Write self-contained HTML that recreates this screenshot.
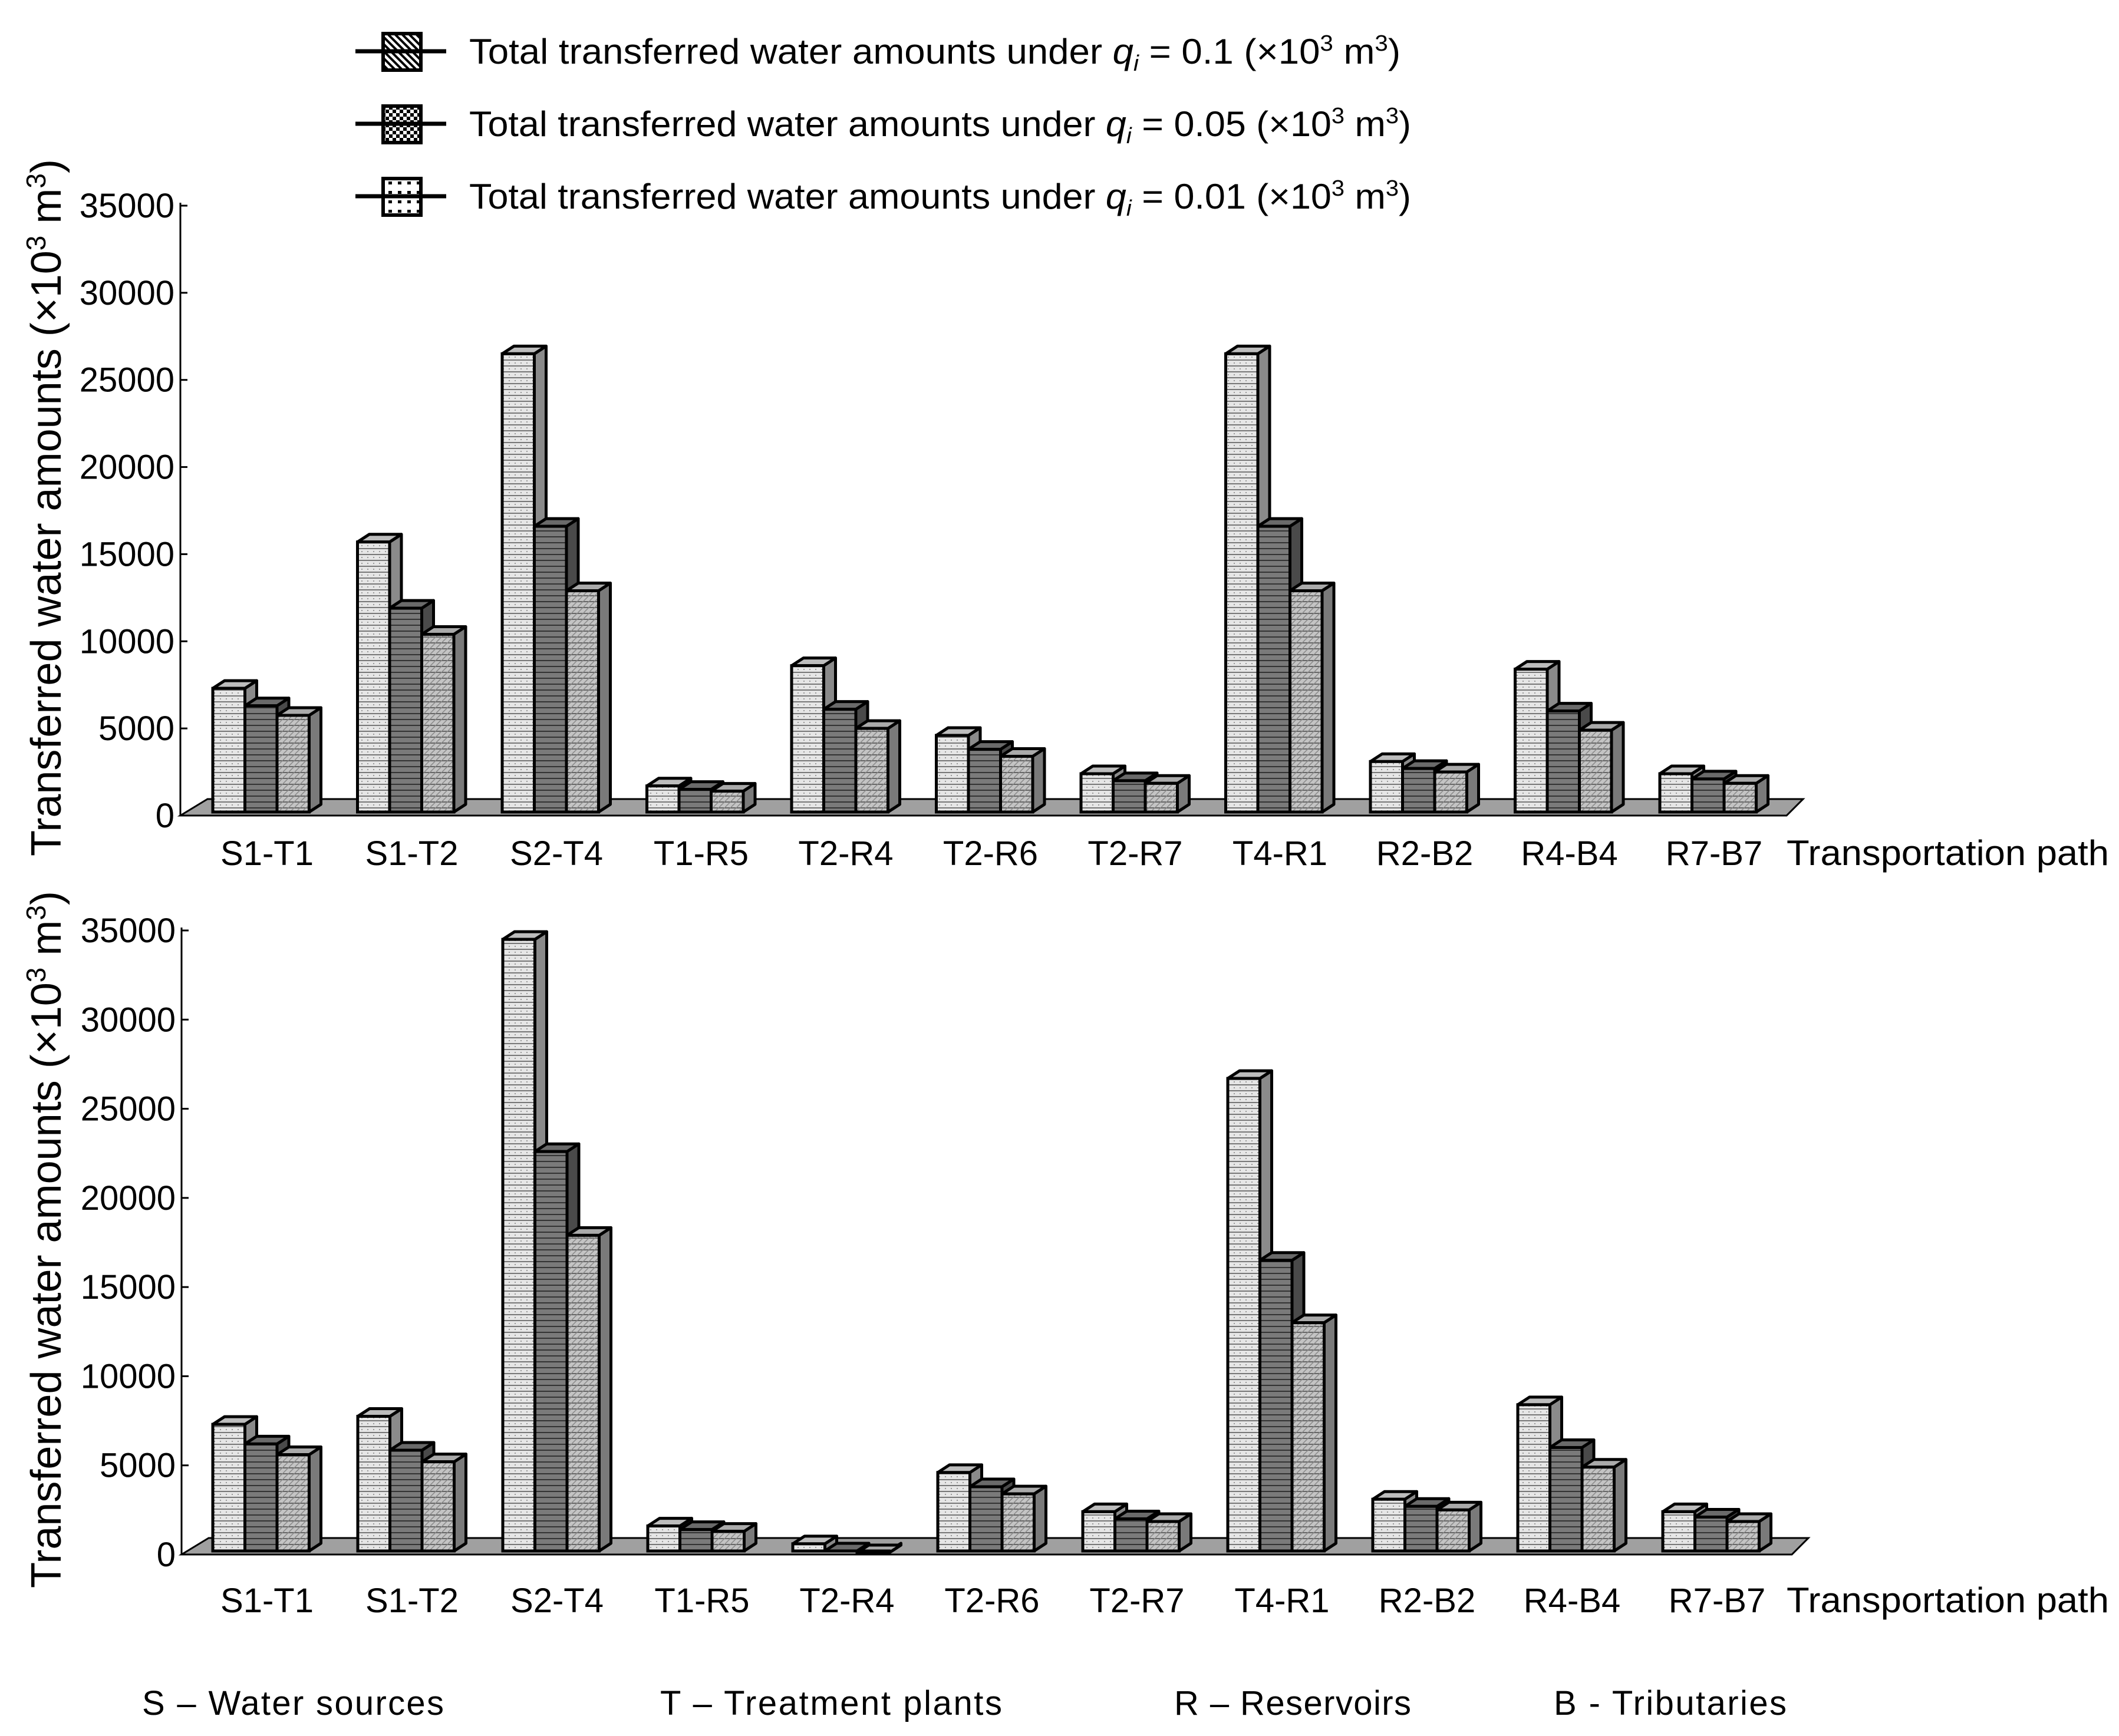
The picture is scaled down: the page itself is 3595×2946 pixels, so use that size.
<!DOCTYPE html>
<html><head><meta charset="utf-8"><title>Transferred water amounts chart</title>
<style>html,body{margin:0;padding:0;background:#fff}svg{display:block}text{font-family:"Liberation Sans",Arial,sans-serif;fill:#000}</style>
</head><body>
<svg id="chart" width="3595" height="2946" viewBox="0 0 3595 2946" xmlns="http://www.w3.org/2000/svg">
<defs>
<pattern id="p1" width="10" height="10" patternUnits="userSpaceOnUse"><rect width="10" height="10" fill="#e6e6e6"/><rect y="0" width="10" height="2" fill="#777"/><rect x="3" y="5" width="2" height="2" fill="#999"/></pattern>
<pattern id="p2" width="10" height="10" patternUnits="userSpaceOnUse"><rect width="10" height="10" fill="#7a7a7a"/><rect y="0" width="10" height="2" fill="#333"/></pattern>
<pattern id="p3" width="10" height="10" patternUnits="userSpaceOnUse"><rect width="10" height="10" fill="#c4c4c4"/><rect y="0" width="10" height="2" fill="#666"/><path d="M0 10 L10 0" stroke="#888" stroke-width="1.5"/></pattern>
<pattern id="L1" width="12" height="12" patternUnits="userSpaceOnUse"><rect width="12" height="12" fill="#fff"/><path d="M0 0 L12 12 M-6 6 L6 18 M6 -6 L18 6" stroke="#000" stroke-width="4"/></pattern>
<pattern id="L2" width="12" height="12" patternUnits="userSpaceOnUse"><rect width="12" height="12" fill="#fff"/><rect width="6" height="6" fill="#000"/><rect x="6" y="6" width="6" height="6" fill="#000"/></pattern>
<pattern id="L3" width="16" height="16" patternUnits="userSpaceOnUse"><rect width="16" height="16" fill="#fff"/><rect x="3" y="4" width="6" height="5" fill="#000"/></pattern>
</defs>
<g id="legend"></g>
<g id="top"></g>
<g id="bottom"></g>
<g id="footer">
<text x="241" y="2910" font-size="58" textLength="512">S – Water sources</text>
<text x="1120" y="2910" font-size="58" textLength="580">T – Treatment plants</text>
<text x="1992" y="2910" font-size="58" textLength="402">R – Reservoirs</text>
<text x="2636" y="2910" font-size="58" textLength="395">B - Tributaries</text>
</g>
</svg>
<script>
const categories = ["S1-T1","S1-T2","S2-T4","T1-R5","T2-R4","T2-R6","T2-R7","T4-R1","R2-B2","R4-B4","R7-B7"];
const topQ01 = [7300,15700,26500,1700,8600,4600,2400,26500,3100,8400,2400];
const topQ005 = [6300,11900,16600,1500,6100,3800,2000,16600,2700,6000,2100];
const topQ001 = [5750,10400,12900,1400,5000,3400,1850,12900,2500,4900,1850];
const botQ01 = [7300,7750,34500,1600,600,4600,2400,26700,3100,8400,2400];
const botQ005 = [6200,5850,22600,1400,200,3800,2000,16500,2700,6000,2100];
const botQ001 = [5600,5200,17900,1300,100,3400,1850,13000,2500,4900,1850];
const yTicks = [0,5000,10000,15000,20000,25000,30000,35000];
const legendLabels = ["0.1","0.05","0.01"];

const NS = "http://www.w3.org/2000/svg";
function mk(tag, attrs, parent){const e=document.createElementNS(NS,tag);for(const k in attrs)e.setAttribute(k,attrs[k]);parent.appendChild(e);return e;}

const lg = document.getElementById('legend');
const legendPats = ["L1","L2","L3"];
const legendLens = [1580,1598,1598];
legendLabels.forEach((q,i)=>{
  const cy = 87 + i*123;
  const g = mk('g',{},lg);
  
  
  mk('rect',{x:650,y:cy-30,width:64,height:62,fill:'url(#'+legendPats[i]+')',stroke:'#000','stroke-width':6},g);
  mk('line',{x1:603,y1:cy,x2:757,y2:cy,stroke:'#000','stroke-width':7},g);
  const t = mk('text',{x:796,y:cy+21,'font-size':60,textLength:legendLens[i],lengthAdjust:'spacingAndGlyphs'},g);
  
  
  t.innerHTML = 'Total transferred water amounts under <tspan font-style="italic">q</tspan><tspan font-style="italic" font-size="38" dy="12">i</tspan><tspan dy="-12"> = '+q+(q==="0.1"?'  ':' ')+'(×10</tspan><tspan font-size="38" dy="-22">3</tspan><tspan dy="22"> m</tspan><tspan font-size="38" dy="-22">3</tspan><tspan dy="22">)</tspan>';
});

function drawChart(gid, y0, yTop, axisX, floorRight, s1, s2, s3, spacing, labelY){
  const g = document.getElementById(gid);
  const k = (y0 - yTop)/35000;
  const yScale = v => y0 - v*k;
  const xGroup = i => 361 + i*spacing;
  const fl = mk('polygon',{points:`${axisX},${y0} ${floorRight},${y0} ${floorRight+28},${y0-28} ${axisX+46},${y0-28}`,fill:'#a0a0a0',stroke:'#000','stroke-width':3},g);
  
  
  const ax = mk('line',{x1:axisX,y1:yTop-5,x2:axisX,y2:y0,stroke:'#000','stroke-width':3},g);
  
  
  yTicks.forEach(v=>{
    const y = yScale(v);
    const tk = mk('line',{x1:axisX,y1:y,x2:axisX+12,y2:y,stroke:'#000','stroke-width':3},g);
    
    
    const t = mk('text',{x:axisX-10,y:y+20,'font-size':58,'text-anchor':'end'},g);
    
    
    t.textContent = v;
  });
  const W=54.5, dx=20, dy=13, bottom=y0-6;
  const series=[s1,s2,s3], pats=['p1','p2','p3'], tops=['#bdbdbd','#6a6a6a','#aaaaaa'], sides=['#8a8a8a','#4a4a4a','#7a7a7a'];
  categories.forEach((c,i)=>{
    const gx = xGroup(i);
    series.forEach((arr,j)=>{
      const x = gx + j*W, y = yScale(arr[i]);
      const b = mk('g',{},g);
      
      
      mk('polygon',{points:`${x+W},${bottom} ${x+W+dx},${bottom-dy} ${x+W+dx},${y-dy} ${x+W},${y}`,fill:sides[j],stroke:'#000','stroke-width':5,'stroke-linejoin':'round'},b);
      mk('polygon',{points:`${x},${y} ${x+dx},${y-dy} ${x+W+dx},${y-dy} ${x+W},${y}`,fill:tops[j],stroke:'#000','stroke-width':5,'stroke-linejoin':'round'},b);
      mk('rect',{x:x,y:Math.min(y,bottom),width:W,height:Math.abs(bottom-y),fill:'url(#'+pats[j]+')',stroke:'#000','stroke-width':5},b);
    });
    const t = mk('text',{x:gx+92,y:labelY,'font-size':58,'text-anchor':'middle'},g);
    
    
    t.textContent = c;
  });
  const xt = mk('text',{x:3031,y:labelY,'font-size':60,textLength:547,lengthAdjust:'spacingAndGlyphs'},g);
  
  
  xt.textContent='Transportation path';
  const cy = (y0+yTop)/2 - 5;
  const yt = mk('text',{x:0,y:0,'font-size':72,'text-anchor':'middle',transform:`translate(103,${cy}) rotate(-90)`},g);
  
  
  yt.innerHTML='Transferred water amounts (×10<tspan font-size="46" dy="-26">3</tspan><tspan dy="26"> m</tspan><tspan font-size="46" dy="-26">3</tspan><tspan dy="26">)</tspan>';
}
drawChart('top',1384,349,306,3031,topQ01,topQ005,topQ001,245.5,1468);
drawChart('bottom',2638,1579,308,3040,botQ01,botQ005,botQ001,246,2736);
</script>
</body></html>
